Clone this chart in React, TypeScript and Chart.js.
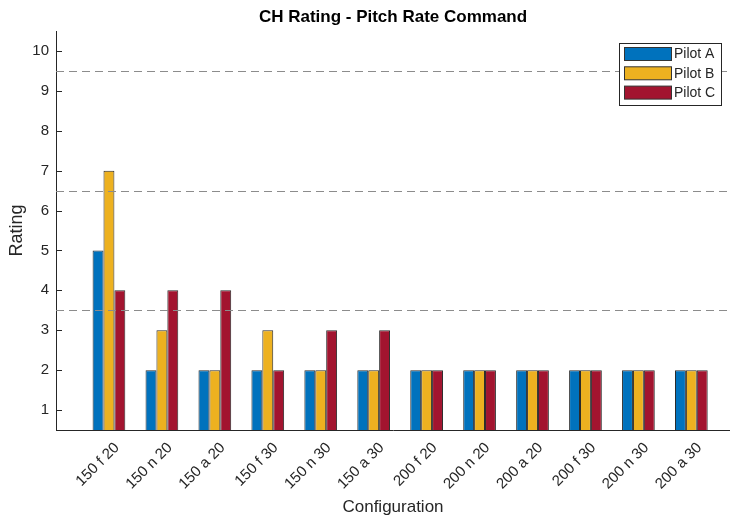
import React, { useEffect, useRef } from "react";
import { Chart, registerables } from "chart.js";

Chart.register(...registerables);

const configs = [
  "150 f 20", "150 n 20", "150 a 20", "150 f 30", "150 n 30", "150 a 30",
  "200 f 20", "200 n 20", "200 a 20", "200 f 30", "200 n 30", "200 a 30",
];
const pilotA = [5, 2, 2, 2, 2, 2, 2, 2, 2, 2, 2, 2];
const pilotB = [7, 3, 2, 3, 2, 2, 2, 2, 2, 2, 2, 2];
const pilotC = [4, 4, 4, 2, 3, 3, 2, 2, 2, 2, 2, 2];
const yTicks = [1, 2, 3, 4, 5, 6, 7, 8, 9, 10];
const refLevels = [3.5, 6.5, 9.5];

const FONT = "'Liberation Sans', Arial, Helvetica, sans-serif";
const AXIS = "#262626";

// draws the dashed levels, inward ticks, title and the boxed legend
const matlabLook = {
  id: "matlabLook",
  afterDatasetsDraw(chart: any) {
    const { ctx, chartArea, scales } = chart;
    ctx.save();
    ctx.strokeStyle = "#8c8c8c";
    ctx.lineWidth = 1;
    ctx.setLineDash([8, 5]);
    refLevels.forEach((v) => {
      const y = Math.round(scales.y.getPixelForValue(v)) + 0.5;
      ctx.beginPath();
      ctx.moveTo(chartArea.left, y);
      ctx.lineTo(chartArea.right, y);
      ctx.stroke();
    });
    ctx.setLineDash([]);
    ctx.strokeStyle = AXIS;
    yTicks.forEach((v) => {
      const y = Math.round(scales.y.getPixelForValue(v)) + 0.5;
      ctx.beginPath();
      ctx.moveTo(chartArea.left, y);
      ctx.lineTo(chartArea.left + 6, y);
      ctx.stroke();
    });
    ctx.restore();
  },
  afterDraw(chart: any) {
    const { ctx, chartArea } = chart;
    ctx.save();
    // title
    ctx.fillStyle = "#000";
    ctx.font = `bold 17px ${FONT}`;
    ctx.textAlign = "center";
    ctx.textBaseline = "middle";
    ctx.fillText("CH Rating - Pitch Rate Command", (chartArea.left + chartArea.right) / 2, 17);

    // legend
    const bx = 619.5, by = 43.5, bw = 102, bh = 62;
    ctx.fillStyle = "#fff";
    ctx.fillRect(bx, by, bw, bh);
    ctx.strokeStyle = "#262626";
    ctx.lineWidth = 1;
    ctx.strokeRect(bx, by, bw, bh);
    ctx.font = `14px ${FONT}`;
    ctx.textAlign = "left";
    chart.data.datasets.forEach((ds: any, i: number) => {
      const sy = 47.5 + i * 19.3;
      ctx.fillStyle = ds.backgroundColor;
      ctx.fillRect(624.5, sy, 47, 13);
      ctx.strokeStyle = "#333";
      ctx.strokeRect(624.5, sy, 47, 13);
      ctx.fillStyle = AXIS;
      ctx.fillText(ds.label, 674, sy + 7);
    });
    ctx.restore();
  },
};

export default function App() {
  const canvasRef = useRef<HTMLCanvasElement>(null);

  useEffect(() => {
    document.body.style.margin = "0";
    document.body.style.overflow = "hidden";
    const ctx = canvasRef.current?.getContext("2d");
    if (!ctx) return;

    const toPoints = (vals: number[]) => vals.map((v, i) => ({ x: i + 1, y: v }));
    const mk = (label: string, vals: number[], color: string) => ({
      label,
      data: toPoints(vals),
      backgroundColor: color,
      borderColor: "#2b2b2b",
      borderWidth: 1,
      borderSkipped: "start",
      categoryPercentage: 0.618,
      barPercentage: 1,
    });

    const chart = new Chart(ctx, {
      type: "bar",
      data: {
        datasets: [
          mk("Pilot A", pilotA, "#0072BD"),
          mk("Pilot B", pilotB, "#EDB120"),
          mk("Pilot C", pilotC, "#A2142F"),
        ],
      },
      options: {
        animation: false,
        responsive: false,
        maintainAspectRatio: false,
        layout: { padding: { top: 31, left: 0, right: 0, bottom: 0 } },
        plugins: {
          legend: { display: false },
          title: { display: false },
          tooltip: { enabled: false },
        },
        scales: {
          x: {
            type: "linear",
            offset: false,
            min: 0,
            max: 12.73,
            afterBuildTicks: (s: any) => {
              s.ticks = configs.map((_, i) => ({ value: i + 1 }));
            },
            afterFit: (s: any) => {
              s.height = 88;
            },
            grid: { display: false, drawTicks: false },
            border: { display: true, color: AXIS, width: 1 },
            ticks: {
              autoSkip: false,
              minRotation: 45,
              maxRotation: 45,
              padding: 9,
              labelOffset: 8,
              color: AXIS,
              font: { family: FONT, size: 15 },
              callback: (v: any) => configs[Math.round(v) - 1] ?? "",
            },
            title: {
              display: true,
              text: "Configuration",
              color: AXIS,
              font: { family: FONT, size: 17 },
              padding: { top: 0, bottom: 0 },
            },
          },
          y: {
            min: 0.5,
            max: 10.5,
            afterBuildTicks: (s: any) => {
              s.ticks = yTicks.map((v) => ({ value: v }));
            },
            afterFit: (s: any) => {
              s.width = 56;
            },
            grid: { display: false, drawTicks: false },
            border: { display: true, color: AXIS, width: 1 },
            ticks: {
              padding: 7,
              color: AXIS,
              font: { family: FONT, size: 15 },
            },
            title: {
              display: true,
              text: "Rating",
              color: AXIS,
              font: { family: FONT, size: 18 },
              padding: { top: 6, bottom: 0 },
            },
          },
        },
      } as any,
      plugins: [matlabLook],
    });

    return () => chart.destroy();
  }, []);

  return (
    <div style={{ width: 730, height: 518, background: "#fff" }}>
      <canvas ref={canvasRef} width={730} height={518} />
    </div>
  );
}
